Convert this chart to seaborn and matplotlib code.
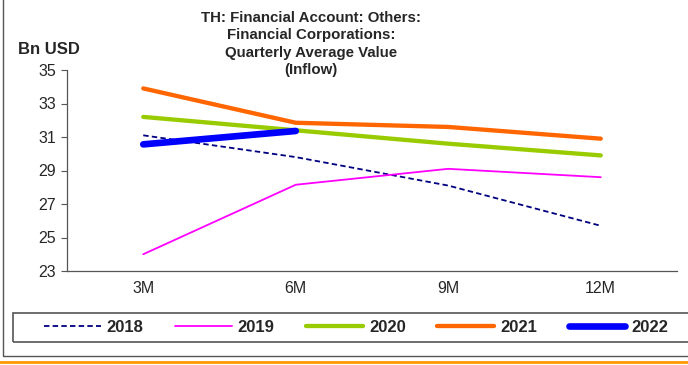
import matplotlib
matplotlib.use("Agg")
import matplotlib.pyplot as plt
from matplotlib.lines import Line2D
from matplotlib.patches import Rectangle
import pandas as pd
import seaborn as sns

# Quarterly average inflow values (Bn USD)
periods = ["3M", "6M", "9M", "12M"]
y2018 = [31.1, 29.8, 28.1, 25.7]
y2019 = [24.0, 28.15, 29.1, 28.6]
y2020 = [32.2, 31.4, 30.6, 29.9]
y2021 = [33.9, 31.85, 31.6, 30.9]
y2022 = [30.56, 31.36]

series = {
    "2018": y2018,
    "2019": y2019,
    "2020": y2020,
    "2021": y2021,
    "2022": y2022,
}
styles = {
    "2018": dict(color="#000080", lw=1.3, ls=(0, (3, 1.8))),
    "2019": dict(color="#FF00FF", lw=1.3, ls="-"),
    "2020": dict(color="#99CC00", lw=3.1, ls="-"),
    "2021": dict(color="#FF6600", lw=3.1, ls="-"),
    "2022": dict(color="#0000FF", lw=4.8, ls="-"),
}

sns.set_style("white")
plt.rcParams["font.family"] = ["Liberation Sans", "DejaVu Sans"]

fig = plt.figure(figsize=(6.88, 3.65), dpi=100)
ax = fig.add_axes([67 / 688, 1 - 271 / 365, 610 / 688, 201 / 365])

rows = []
for name, vals in series.items():
    for p, v in zip(periods, vals):
        rows.append({"period": p, "value": v, "year": name})
df = pd.DataFrame(rows)

for name in series:
    sub = df[df["year"] == name]
    st = styles[name]
    sns.lineplot(data=sub, x="period", y="value", ax=ax, color=st["color"],
                 linewidth=st["lw"], linestyle=st["ls"], solid_capstyle="round",
                 sort=False, legend=False)

ax.set_xlim(-0.5, 3.5)
ax.set_ylim(23, 35)
ax.set_yticks(range(23, 36, 2))
ax.set_xticks(range(len(periods)))
ax.set_xticklabels(periods)
ax.set_xticks([-0.5, 0.5, 1.5, 2.5, 3.5], minor=True)
ax.tick_params(axis="x", which="major", length=0, labelsize=11.5, pad=7.5)
ax.tick_params(axis="x", which="minor", length=4, width=0.8, color="#555555", direction="out")
ax.tick_params(axis="y", length=4, width=0.8, color="#555555", labelsize=11.5, left=True, direction="out", pad=4)
ax.set_xlabel("")
ax.set_ylabel("")
for s in ["top", "right"]:
    ax.spines[s].set_visible(False)
for s in ["left", "bottom"]:
    ax.spines[s].set_color("#555555")
    ax.spines[s].set_linewidth(0.9)
ax.grid(False)

fig.text(311 / 688, 1 - 10.5 / 365,
         "TH: Financial Account: Others:\nFinancial Corporations:\nQuarterly Average Value\n(Inflow)",
         ha="center", va="top", fontsize=10.8, fontweight="bold",
         linespacing=1.33)
fig.text(18 / 688, 1 - 49.5 / 365, "Bn USD", ha="left", va="center",
         fontsize=12, fontweight="bold")

handles = [Line2D([], [], color=styles[n]["color"], lw=styles[n]["lw"],
                  ls=styles[n]["ls"], solid_capstyle="round") for n in series]
leg = fig.legend(handles, list(series.keys()), ncol=5, loc="center left",
                 bbox_to_anchor=(44 / 688, 1 - 327 / 365),
                 frameon=False, handlelength=3.4, handletextpad=0.36,
                 columnspacing=1.9, borderpad=0, borderaxespad=0,
                 prop={"weight": "bold", "size": 12})

# Legend box, outer frame and bottom rule
fig.add_artist(Rectangle((13 / 688, 1 - 342 / 365), 700 / 688, 29.3 / 365,
                         transform=fig.transFigure, fill=False,
                         edgecolor="#555555", lw=1.2))
fig.add_artist(Rectangle((3 / 688, 1 - 356 / 365), 700 / 688, 360 / 365,
                         transform=fig.transFigure, fill=False,
                         edgecolor="#555555", lw=1.0))
fig.add_artist(Line2D([0, 1], [1 - 362 / 365] * 2, transform=fig.transFigure,
                      color="#FF9900", lw=2))

fig.savefig("out.png", dpi=100)
